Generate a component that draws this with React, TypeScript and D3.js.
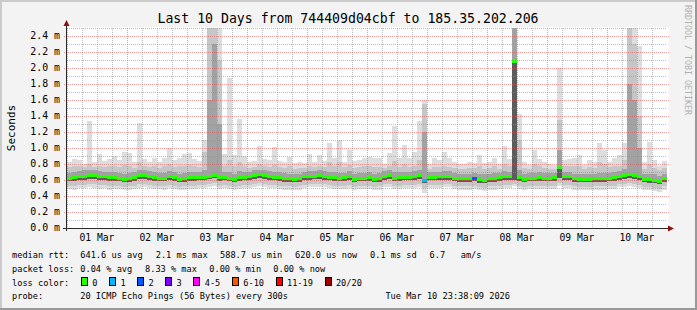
import React from 'react';
import * as d3 from 'd3';

const W = 697;
const H = 310;

const titleText = 'Last 10 Days from 744409d04cbf to 185.35.202.206';
const unitLabel = 'Seconds';
const watermark = 'RRDTOOL / TOBI OETIKER';

// time window (UTC)
const windowStart = Date.UTC(2026, 1, 28, 23, 38, 9);
const windowEnd = Date.UTC(2026, 2, 10, 23, 38, 9);
const firstStep = Date.UTC(2026, 2, 1, 0, 0, 0);
const stepHours = 2;

// y-axis ticks (ms)
const yMax = 2.5;
const yMinorTicks = [0.1,0.2,0.3,0.4,0.5,0.6,0.7,0.8,0.9,1.0,1.1,1.2,1.3,1.4,1.5,1.6,1.7,1.8,1.9,2.0,2.1,2.2,2.3,2.4,2.5];
const yMajorTicks = [0.0,0.2,0.4,0.6,0.8,1.0,1.2,1.4,1.6,1.8,2.0,2.2,2.4];

// 2-hour steps, Mar 1 00:00 .. Mar 10 24:00 (12 per day)
const median = [
  0.625,0.63,0.64,0.65,0.66,0.655,0.645,0.64,0.635,0.635,0.625,0.605,
  0.615,0.635,0.655,0.66,0.645,0.63,0.625,0.625,0.64,0.635,0.61,0.615,
  0.63,0.63,0.635,0.635,0.65,0.66,0.63,0.635,0.625,0.61,0.635,0.635,
  0.64,0.655,0.665,0.66,0.645,0.635,0.63,0.62,0.615,0.61,0.615,0.64,
  0.645,0.65,0.655,0.65,0.635,0.63,0.625,0.63,0.645,0.61,0.625,0.625,
  0.63,0.61,0.62,0.65,0.655,0.625,0.63,0.635,0.635,0.64,0.655,0.60,
  0.635,0.635,0.64,0.65,0.65,0.625,0.62,0.62,0.62,0.625,0.605,0.60,
  0.615,0.62,0.63,0.64,0.64,2.08,0.63,0.61,0.625,0.625,0.63,0.625,
  0.625,0.63,0.76,0.64,0.64,0.615,0.61,0.61,0.61,0.615,0.62,0.62,
  0.625,0.63,0.645,0.66,0.67,0.66,0.645,0.61,0.605,0.60,0.585,0.615,
];
const maxPing = [
  0.82,0.86,0.85,0.80,1.34,0.82,0.93,0.84,0.86,0.90,0.85,0.95,
  0.94,0.82,1.31,0.86,0.83,0.87,0.82,0.87,1.00,0.85,0.87,0.93,
  0.94,0.86,0.84,1.10,2.60,2.60,2.60,0.92,1.87,0.91,1.36,0.90,
  0.82,0.84,1.03,0.86,0.85,1.01,0.84,0.83,0.89,0.81,0.82,0.81,
  0.93,0.83,0.91,0.84,1.06,0.87,1.10,0.83,0.97,0.84,0.85,0.88,
  0.89,0.88,0.87,0.80,0.94,1.28,0.87,1.04,0.87,0.95,1.34,1.60,
  0.80,0.87,0.85,0.95,0.87,0.83,0.80,0.80,0.83,0.81,0.91,0.81,
  0.82,0.87,0.80,1.02,0.86,2.60,1.43,0.83,0.79,0.97,0.86,0.82,
  0.80,0.79,2.00,0.85,0.86,0.87,0.91,0.79,0.85,0.83,1.06,0.98,
  0.83,0.87,0.91,1.06,2.60,2.60,2.27,0.83,1.08,0.85,0.78,0.84,
];
const p90 = [
  0.76,0.77,0.77,0.76,0.80,0.76,0.78,0.76,0.77,0.78,0.76,0.79,
  0.78,0.75,0.82,0.77,0.76,0.77,0.75,0.77,0.80,0.76,0.77,0.78,
  0.79,0.77,0.76,0.95,2.60,2.60,2.10,0.78,0.85,0.77,0.82,0.77,
  0.75,0.76,0.80,0.77,0.76,0.79,0.76,0.75,0.77,0.74,0.75,0.75,
  0.78,0.76,0.78,0.76,0.82,0.77,0.83,0.76,0.79,0.75,0.76,0.77,
  0.77,0.76,0.76,0.75,0.78,0.84,0.76,0.80,0.76,0.78,0.85,1.55,
  0.74,0.76,0.76,0.78,0.76,0.75,0.74,0.74,0.75,0.75,0.77,0.74,
  0.75,0.77,0.74,0.80,0.77,2.60,1.10,0.75,0.74,0.80,0.77,0.75,
  0.74,0.74,1.35,0.77,0.77,0.77,0.78,0.74,0.76,0.75,0.82,0.80,
  0.76,0.77,0.78,0.85,2.50,2.30,1.40,0.74,0.80,0.75,0.72,0.75,
];
const p75 = [
  0.69,0.70,0.71,0.72,0.73,0.72,0.71,0.70,0.70,0.70,0.69,0.68,
  0.69,0.70,0.72,0.73,0.71,0.70,0.69,0.69,0.71,0.70,0.68,0.69,
  0.70,0.70,0.70,0.72,1.60,2.30,1.30,0.70,0.70,0.68,0.71,0.70,
  0.70,0.72,0.73,0.72,0.71,0.70,0.70,0.69,0.68,0.68,0.68,0.70,
  0.71,0.71,0.72,0.71,0.70,0.70,0.69,0.69,0.71,0.68,0.69,0.69,
  0.70,0.68,0.69,0.71,0.72,0.70,0.70,0.70,0.70,0.71,0.73,1.20,
  0.70,0.70,0.70,0.71,0.71,0.69,0.68,0.68,0.68,0.69,0.67,0.67,
  0.68,0.69,0.69,0.71,0.70,2.60,0.72,0.68,0.69,0.69,0.70,0.69,
  0.69,0.69,0.98,0.70,0.70,0.68,0.68,0.68,0.68,0.68,0.69,0.69,
  0.69,0.70,0.71,0.74,1.80,1.60,1.00,0.68,0.67,0.67,0.65,0.68,
];
const p25 = [
  0.585,0.59,0.595,0.60,0.61,0.61,0.60,0.595,0.59,0.59,0.585,0.57,
  0.575,0.59,0.61,0.61,0.60,0.59,0.585,0.585,0.595,0.59,0.57,0.575,
  0.59,0.59,0.595,0.595,0.61,0.62,0.59,0.595,0.585,0.57,0.59,0.595,
  0.60,0.61,0.62,0.615,0.60,0.595,0.59,0.58,0.575,0.57,0.575,0.60,
  0.605,0.61,0.61,0.605,0.595,0.59,0.585,0.59,0.60,0.57,0.585,0.585,
  0.59,0.57,0.58,0.605,0.61,0.585,0.59,0.595,0.595,0.60,0.61,0.56,
  0.595,0.595,0.60,0.605,0.605,0.585,0.58,0.58,0.58,0.585,0.565,0.56,
  0.575,0.58,0.59,0.60,0.60,0.60,0.59,0.57,0.585,0.585,0.59,0.585,
  0.585,0.59,0.62,0.60,0.60,0.575,0.57,0.57,0.57,0.575,0.58,0.58,
  0.585,0.59,0.605,0.61,0.62,0.61,0.60,0.57,0.565,0.56,0.545,0.575,
];
const p10 = [
  0.53,0.53,0.54,0.54,0.55,0.55,0.54,0.54,0.53,0.53,0.53,0.51,
  0.52,0.53,0.55,0.55,0.54,0.53,0.53,0.53,0.54,0.53,0.51,0.52,
  0.53,0.53,0.54,0.54,0.55,0.56,0.53,0.54,0.53,0.51,0.53,0.54,
  0.54,0.55,0.56,0.55,0.54,0.54,0.53,0.52,0.52,0.51,0.52,0.54,
  0.55,0.55,0.55,0.55,0.54,0.53,0.53,0.53,0.54,0.51,0.53,0.53,
  0.53,0.51,0.52,0.55,0.55,0.53,0.53,0.54,0.54,0.54,0.55,0.50,
  0.54,0.54,0.54,0.55,0.55,0.53,0.52,0.52,0.52,0.53,0.51,0.50,
  0.52,0.52,0.53,0.54,0.54,0.55,0.53,0.51,0.53,0.53,0.53,0.53,
  0.53,0.53,0.56,0.54,0.54,0.52,0.51,0.51,0.51,0.52,0.52,0.52,
  0.53,0.53,0.55,0.55,0.56,0.55,0.54,0.51,0.51,0.50,0.49,0.52,
];
const minPing = [
  0.49,0.48,0.50,0.50,0.51,0.50,0.49,0.50,0.48,0.49,0.49,0.47,
  0.48,0.49,0.50,0.51,0.50,0.49,0.49,0.48,0.50,0.49,0.47,0.48,
  0.49,0.49,0.50,0.50,0.51,0.52,0.49,0.50,0.49,0.47,0.49,0.50,
  0.50,0.51,0.52,0.51,0.50,0.50,0.49,0.48,0.48,0.47,0.48,0.50,
  0.51,0.51,0.51,0.51,0.50,0.49,0.49,0.49,0.50,0.47,0.49,0.49,
  0.49,0.47,0.48,0.51,0.51,0.49,0.49,0.50,0.50,0.50,0.51,0.44,
  0.50,0.50,0.50,0.51,0.51,0.49,0.48,0.48,0.48,0.49,0.47,0.46,
  0.48,0.48,0.49,0.50,0.50,0.52,0.49,0.47,0.49,0.49,0.49,0.49,
  0.49,0.49,0.52,0.50,0.50,0.48,0.47,0.47,0.47,0.48,0.48,0.48,
  0.49,0.49,0.51,0.51,0.52,0.51,0.50,0.47,0.47,0.46,0.45,0.48,
];
// lost pings out of 20 per step
const lossCount = [
  0,0,0,0,0,0,0,0,0,0,0,0,
  0,0,0,0,0,0,0,0,0,0,0,0,
  0,0,0,0,0,0,0,0,0,0,0,0,
  0,0,0,0,0,0,0,0,0,0,0,0,
  0,0,0,0,0,0,0,0,0,0,0,0,
  0,0,0,0,0,0,0,0,0,0,0,1,
  0,0,0,0,0,0,0,0,0,2,0,0,
  0,0,0,0,0,0,0,0,0,0,0,0,
  0,0,0,0,0,0,0,0,0,0,0,0,
  0,0,0,0,0,0,0,0,0,0,0,0,
];

const lossLabels = ['0', '1', '2', '3', '4-5', '6-10', '11-19', '20/20'];
const lossUpper = [0, 1, 2, 3, 5, 10, 19, 20];
const lossColors = ['#26ff00', '#00b8ff', '#0059ff', '#7e00ff', '#ff00ff', '#ff5500', '#ff0000', '#a10000'];

const rttLabel = 'median rtt:';
const rttItems = ['641.6 us avg', '2.1 ms max', '588.7 us min', '620.0 us now', '0.1 ms sd', '6.7', 'am/s'];
const lossLabel = 'packet loss:';
const lossItems = ['0.04 % avg', '8.33 % max', '0.00 % min', '0.00 % now'];
const lossColorLabel = 'loss color:';
const probeLabel = 'probe:';
const probeText = '20 ICMP Echo Pings (56 Bytes) every 300s';
const stampText = 'Tue Mar 10 23:38:09 2026';

// layout
const PL = 66, PR = 666, PT = 28, PB = 228;
const rttX = [80.3, 155.7, 220, 295, 370, 429.5, 460.7];
const lossX = [80.3, 145, 209.3, 273.3];
const rowY = [258.3, 271.5, 285.5, 298.6];
const mono = "'DejaVu Sans Mono', monospace";
const legendFont = 8.65;
const charW = legendFont * 0.602;

function lossColor(n: number) {
  for (let k = 0; k < lossUpper.length; k++) if (n <= lossUpper[k]) return lossColors[k];
  return lossColors[lossColors.length - 1];
}

export default function App() {
  const x = d3.scaleUtc().domain([new Date(windowStart), new Date(windowEnd)]).range([PL, PR]);
  const y = d3.scaleLinear().domain([0, yMax]).range([PB, PT]);
  const stepMs = stepHours * 3600 * 1000;
  const stepStart = median.map((_, i) => new Date(firstStep + i * stepMs));

  const layers = [
    { lo: minPing, hi: maxPing, color: '#dddddd' },
    { lo: p10, hi: p90, color: '#c6c6c6' },
    { lo: p25, hi: p75, color: '#a2a2a2' },
    { lo: p25, hi: median, color: '#5c5c5c' },
  ];

  const minorX = d3.utcHour.every(6)!.range(new Date(windowStart), new Date(windowEnd));
  const dayX = d3.utcDay.range(new Date(windowStart), new Date(windowEnd));
  const labelX = d3.utcDay.range(new Date(firstStep), new Date(windowEnd)).map(d => d3.utcHour.offset(d, 12));
  const fmtDay = d3.utcFormat('%d %b');
  const isMajorT = (d: Date) => d.getUTCHours() === 0;
  const isMajorV = (v: number) => Math.abs(Math.round(v * 10) % 2) === 0;

  const crisp = (v: number) => Math.round(v) + 0.5;

  // loss legend positions
  let lx = 81;
  const lossLegend = lossLabels.map((lab, k) => {
    const item = { bx: lx, tx: lx + 11.3, lab, color: lossColors[k] };
    lx = item.tx + lab.length * charW + 11.6;
    return item;
  });

  return (
    <svg width={W} height={H} style={{ position: 'absolute', left: 0, top: 0, display: 'block' }}
      xmlns="http://www.w3.org/2000/svg">
      <defs>
        <clipPath id="plotClip">
          <rect x={PL + 1} y={PT} width={PR - PL + 1} height={PB - PT} />
        </clipPath>
      </defs>
      {/* background with bevel */}
      <rect x={0} y={0} width={W} height={H} fill="#f3f3f3" />
      <rect x={0} y={0} width={W} height={2} fill="#cbcbcb" />
      <rect x={0} y={0} width={2} height={H} fill="#cbcbcb" />
      <rect x={0} y={H - 2} width={W} height={2} fill="#999999" />
      <rect x={W - 2} y={0} width={2} height={H} fill="#999999" />
      {/* canvas */}
      <rect x={PL + 1} y={PT - 1} width={PR - PL + 2} height={PB - PT + 1} fill="#ffffff" />

      {/* smoke */}
      <g clipPath="url(#plotClip)" shapeRendering="crispEdges">
        {layers.map((L, li) => (
          <g key={li} fill={L.color}>
            {stepStart.map((t, i) => {
              const x0 = x(t), x1 = x(new Date(+t + stepMs));
              const y0 = y(Math.min(L.hi[i], yMax + 0.1));
              const y1 = y(L.lo[i]);
              if (y1 <= y0) return null;
              return <rect key={i} x={x0} y={y0} width={x1 - x0} height={y1 - y0} />;
            })}
          </g>
        ))}
      </g>

      {/* grid */}
      <g shapeRendering="crispEdges" strokeWidth={1} strokeDasharray="1 1">
        {minorX.filter(d => !isMajorT(d)).map((d, i) => (
          <line key={'vx' + i} x1={crisp(x(d))} x2={crisp(x(d))} y1={PT} y2={PB} stroke="rgba(143,143,143,0.6)" />
        ))}
        {yMinorTicks.filter(v => !isMajorV(v)).map((v, i) => (
          <line key={'hy' + i} x1={PL + 1} x2={PR + 1} y1={crisp(y(v))} y2={crisp(y(v))} stroke="rgba(143,143,143,0.6)" />
        ))}
        {dayX.map((d, i) => (
          <line key={'VX' + i} x1={crisp(x(d))} x2={crisp(x(d))} y1={PT} y2={PB + 2} stroke="rgba(222,80,80,0.55)" />
        ))}
        {yMajorTicks.filter(v => v > 0).map((v, i) => (
          <line key={'HY' + i} x1={PL - 2} x2={PR + 3} y1={crisp(y(v))} y2={crisp(y(v))} stroke="rgba(222,80,80,0.55)" />
        ))}
      </g>

      {/* median band coloured by loss */}
      <g clipPath="url(#plotClip)" shapeRendering="crispEdges">
        {stepStart.map((t, i) => {
          const x0 = x(t), x1 = x(new Date(+t + stepMs));
          return <rect key={i} x={x0} y={y(median[i]) - 1.5} width={x1 - x0} height={3} fill={lossColor(lossCount[i])} />;
        })}
      </g>

      {/* axes */}
      <g shapeRendering="crispEdges">
        <line x1={PL + 0.5} x2={PL + 0.5} y1={PT - 4} y2={PB + 3} stroke="#2a2a2a" />
        <line x1={PL - 3} x2={PR + 3} y1={PB + 0.5} y2={PB + 0.5} stroke="#2a2a2a" />
      </g>
      <path d={`M${PL - 2.5},${PT - 2} L${PL + 3.5},${PT - 2} L${PL + 0.5},${PT - 8} Z`} fill="#8b1010" />
      <path d={`M${PR + 2},${PB - 2.5} L${PR + 2},${PB + 3.5} L${PR + 8},${PB + 0.5} Z`} fill="#8b1010" />

      {/* title */}
      <text x={348} y={23.3} textAnchor="middle" fontFamily={mono} fontSize={13.2} fill="#000">{titleText}</text>

      {/* y labels */}
      {yMajorTicks.map((v, i) => (
        <text key={'yl' + i} x={60} y={y(v) + 3.4} textAnchor="end" fontFamily={mono} fontSize={9.9} fill="#000">
          {d3.format('.1f')(v) + ' m'}
        </text>
      ))}
      {/* x labels */}
      {labelX.map((d, i) => (
        <text key={'xl' + i} x={x(d)} y={240.8} textAnchor="middle" fontFamily={mono} fontSize={9.7} fill="#000">
          {fmtDay(d)}
        </text>
      ))}
      {/* unit label */}
      <text transform={`translate(15,${(PT + PB) / 2}) rotate(-90)`} textAnchor="middle" fontFamily={mono} fontSize={11} fill="#000">
        {unitLabel}
      </text>
      {/* watermark */}
      <text transform={`translate(685,60) rotate(90)`} textAnchor="middle" fontFamily={mono} fontSize={8.3} fill="#b0b0b0">
        {watermark}
      </text>

      {/* legend */}
      <g fontFamily={mono} fontSize={legendFont} fill="#000" style={{ whiteSpace: 'pre' }}>
        <text x={12} y={rowY[0]}>{rttLabel}</text>
        {rttItems.map((s, i) => <text key={'r' + i} x={rttX[i]} y={rowY[0]}>{s}</text>)}
        <text x={12} y={rowY[1]}>{lossLabel}</text>
        {lossItems.map((s, i) => <text key={'l' + i} x={lossX[i]} y={rowY[1]}>{s}</text>)}
        <text x={12} y={rowY[2]}>{lossColorLabel}</text>
        {lossLegend.map((it, k) => (
          <g key={'lc' + k}>
            <rect x={it.bx + 0.5} y={rowY[2] - 8.5} width={6} height={8} fill={it.color} stroke="#000" strokeWidth={1} shapeRendering="crispEdges" />
            <text x={it.tx} y={rowY[2]}>{it.lab}</text>
          </g>
        ))}
        <text x={12} y={rowY[3]}>{probeLabel}</text>
        <text x={80.3} y={rowY[3]}>{probeText}</text>
        <text x={510} y={rowY[3]} textAnchor="end">{stampText}</text>
      </g>
    </svg>
  );
}
